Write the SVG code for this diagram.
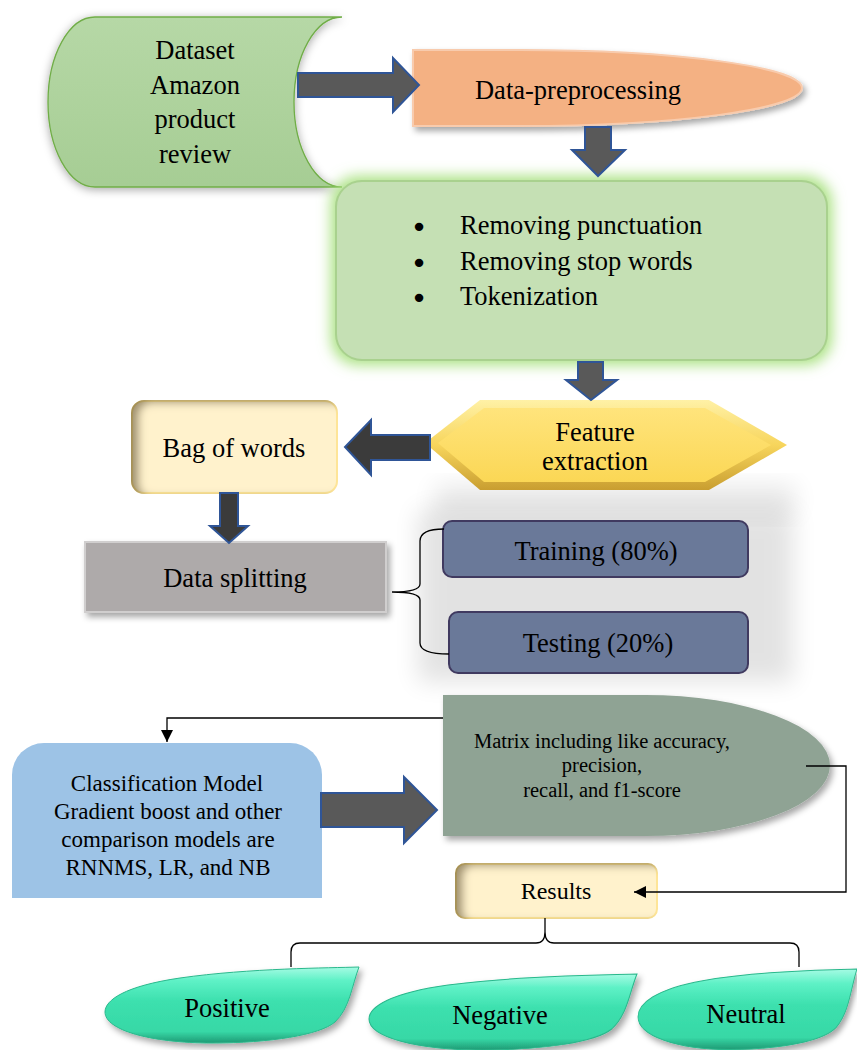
<svg xmlns="http://www.w3.org/2000/svg" width="857" height="1050" viewBox="0 0 857 1050">
<defs>
<style>
.t{font-family:"Liberation Serif","Times New Roman",serif;fill:#000;}
.c{text-anchor:middle;}
.f26{font-size:26.5px;}
.f23{font-size:23px;}
.f24{font-size:24px;}
.f21{font-size:20.5px;}
.bul{font-family:"DejaVu Sans",sans-serif;font-size:29px;text-anchor:middle;fill:#000;}
.blk{stroke:#2f5597;stroke-width:2;stroke-linejoin:miter;}
.line{fill:none;stroke:#000;stroke-width:1.3;}
.leaf{fill:url(#leafG);stroke:#2ab88c;stroke-width:1;}
</style>
<filter id="shadow" x="-20%" y="-20%" width="140%" height="150%">
<feDropShadow dx="3" dy="4" stdDeviation="3" flood-color="#000" flood-opacity="0.35"/>
</filter>
<filter id="soft" x="-20%" y="-20%" width="140%" height="140%">
<feDropShadow dx="0" dy="2" stdDeviation="5" flood-color="#000" flood-opacity="0.35"/>
</filter>
<filter id="glow" x="-15%" y="-25%" width="130%" height="150%">
<feMorphology in="SourceAlpha" operator="dilate" radius="4" result="d"/>
<feGaussianBlur in="d" stdDeviation="7" result="b"/>
<feFlood flood-color="#a6e07c" flood-opacity="0.95"/>
<feComposite in2="b" operator="in" result="g"/>
<feMerge><feMergeNode in="g"/><feMergeNode in="SourceGraphic"/></feMerge>
</filter>
<filter id="inset" x="-10%" y="-10%" width="120%" height="120%">
<feOffset in="SourceAlpha" dx="8" dy="3" result="off"/>
<feGaussianBlur in="off" stdDeviation="4" result="blur"/>
<feComposite in="SourceAlpha" in2="blur" operator="out" result="inv"/>
<feFlood flood-color="#6b5520" flood-opacity="0.75"/>
<feComposite in2="inv" operator="in" result="sh"/>
<feMerge><feMergeNode in="SourceGraphic"/><feMergeNode in="sh"/></feMerge>
</filter>
<filter id="blur12" x="-20%" y="-40%" width="140%" height="180%">
<feGaussianBlur stdDeviation="12"/>
</filter>
<linearGradient id="dsG" x1="0" y1="0" x2="0" y2="1">
<stop offset="0" stop-color="#b6d8a6"/>
<stop offset="1" stop-color="#a6cd94"/>
</linearGradient>
<linearGradient id="hexOut" x1="0" y1="0" x2="0" y2="1">
<stop offset="0" stop-color="#fff1a6"/>
<stop offset="0.5" stop-color="#f7d55c"/>
<stop offset="1" stop-color="#c99e30"/>
</linearGradient>
<linearGradient id="hexIn" x1="0" y1="0" x2="0" y2="1">
<stop offset="0" stop-color="#ffe47c"/>
<stop offset="1" stop-color="#fbd755"/>
</linearGradient>
<linearGradient id="leafG" x1="0" y1="0" x2="0" y2="1">
<stop offset="0" stop-color="#a6fbe4"/>
<stop offset="0.18" stop-color="#5ef1c6"/>
<stop offset="0.45" stop-color="#3ce0ae"/>
<stop offset="0.85" stop-color="#37d8a6"/>
<stop offset="1" stop-color="#1f9a74"/>
</linearGradient>
<marker id="ah" viewBox="0 0 10 10" refX="10" refY="5" markerWidth="12" markerHeight="12" markerUnits="userSpaceOnUse" orient="auto">
<path d="M0,0 L10,5 L0,10 Z" fill="#000"/>
</marker>
<path id="leafP" d="M254,0 C225,1 145,1 75,11 C20,19 0,33 0,45 C0,63 45,76 107,76 C165,76 215,68 230,55 C245,41 247,18 254,0 Z"/>
</defs>

<rect x="0" y="0" width="857" height="1050" fill="#fff"/>

<!-- background soft shadows -->
<rect x="435" y="485" width="360" height="30" fill="#000" opacity="0.09" filter="url(#blur12)"/>
<rect x="418" y="510" width="375" height="172" fill="#000" opacity="0.11" filter="url(#blur12)"/>

<g id="dataset">
<path d="M95,17 H342 A48,85 0 0 0 342,187 H95 A47,85 0 0 1 95,17 Z" fill="url(#dsG)" stroke="#70ad47" stroke-width="1.3" filter="url(#soft)"/>
<text class="t c f26" x="195" y="59">Dataset</text>
<text class="t c f26" x="195" y="94">Amazon</text>
<text class="t c f26" x="195" y="128">product</text>
<text class="t c f26" x="195" y="163">review</text>
</g>

<g id="preprocessing">
<path d="M413,50 H520 A282,38 0 0 1 520,126 H413 Z" fill="#f4b183" stroke="#f8cbad" stroke-width="2" filter="url(#shadow)"/>
<text class="t c f26" x="578" y="99">Data-preprocessing</text>
</g>

<g id="cleaning">
<rect x="336" y="181" width="491" height="179" rx="26" fill="#c5e0b4" stroke="#a9d18e" stroke-width="2" filter="url(#glow)"/>
<text class="bul" x="419" y="237">•</text>
<text class="bul" x="419" y="273">•</text>
<text class="bul" x="419" y="308">•</text>
<text class="t f26" x="460" y="234">Removing punctuation</text>
<text class="t f26" x="460" y="270">Removing stop words</text>
<text class="t f26" x="460" y="305">Tokenization</text>
</g>

<g id="feature">
<path d="M425,443 L480,400 L709,400 L787,445 L709,490 L480,490 Z" fill="url(#hexOut)"/>
<path d="M438,443 L484,408 L705,408 L771,445 L705,482 L484,482 Z" fill="url(#hexIn)"/>
<text class="t c f26" x="595" y="441">Feature</text>
<text class="t c f26" x="595" y="470">extraction</text>
</g>

<g id="bag">
<rect x="132" y="401" width="205" height="92" rx="12" fill="#fff2cc" stroke="#ffe699" stroke-width="2" filter="url(#inset)"/>
<text class="t c f26" x="234" y="457">Bag of words</text>
</g>

<g id="splitting">
<rect x="85" y="542" width="301" height="70" fill="#aeaaaa" stroke="#d0cece" stroke-width="2" filter="url(#shadow)"/>
<text class="t c f26" x="235" y="587">Data splitting</text>
</g>

<g id="training">
<rect x="443" y="521" width="305" height="56" rx="9" fill="#6a7999" stroke="#403a60" stroke-width="2"/>
<text class="t c f26" x="596" y="560">Training (80%)</text>
</g>

<g id="testing">
<rect x="449" y="612" width="299" height="61" rx="9" fill="#6a7999" stroke="#403a60" stroke-width="2"/>
<text class="t c f26" x="598" y="652">Testing (20%)</text>
</g>

<g id="metrics">
<path d="M443,695 H645 A185,70.5 0 0 1 645,836 H443 Z" fill="#8fa394" filter="url(#shadow)"/>
<text class="t c f21" x="602" y="748">Matrix including like accuracy,</text>
<text class="t c f21" x="602" y="772">precision,</text>
<text class="t c f21" x="602" y="797">recall, and f1-score</text>
</g>

<g id="classification">
<path d="M12,898 V775 A32,32 0 0 1 44,743 H290 A32,32 0 0 1 322,775 V898 Z" fill="#9dc3e6"/>
<text class="t c f23" x="167" y="791">Classification Model</text>
<text class="t c f23" x="168" y="819">Gradient boost and other</text>
<text class="t c f23" x="168" y="847">comparison models are</text>
<text class="t c f23" x="168" y="875">RNNMS, LR, and NB</text>
</g>

<g id="results">
<rect x="456" y="864" width="201" height="54" rx="9" fill="#fff2cc" stroke="#ffe699" stroke-width="2" filter="url(#inset)"/>
<text class="t c f24" x="556" y="899">Results</text>
</g>

<g id="positive">
<use href="#leafP" class="leaf" transform="translate(105,967)" filter="url(#shadow)"/>
<text class="t c f26" x="227" y="1017">Positive</text>
</g>

<g id="negative">
<use href="#leafP" class="leaf" transform="translate(369,974) scale(1.055,1)" filter="url(#shadow)"/>
<text class="t c f26" x="500" y="1024">Negative</text>
</g>

<g id="neutral">
<use href="#leafP" class="leaf" transform="translate(638,969) scale(0.862,1.06)" filter="url(#shadow)"/>
<text class="t c f26" x="746" y="1023">Neutral</text>
</g>

<g id="connectors">
<path class="blk" d="M298,73 H393 V58 L419,85 L393,112 V97 H298 Z" fill="#595959"/>
<path class="blk" d="M585,127 H611 V150 H625 L598,176 L572,150 H585 Z" fill="#595959"/>
<path class="blk" d="M578,362 H603 V380 H617 L591,400 L566,380 H578 Z" fill="#595959" stroke="#41719c"/>
<path class="blk" d="M430,435 H371 V420 L345,447 L371,475 V460 H430 Z" fill="#3b3b3b" stroke="#41719c"/>
<path class="blk" d="M220,493 H238 V526 H248 L229,543 L210,526 H220 Z" fill="#3b3b3b" stroke="#41719c"/>
<path class="blk" d="M321,793 H404 V777 L437,810 L404,843 V827 H321 Z" fill="#595959"/>
<path class="line" d="M444,529 Q420,529 420,541 V584 Q420,592 392,592 Q420,592 420,600 V643 Q420,654 449,654"/>
<path class="line" d="M443,718 H167 V742" marker-end="url(#ah)"/>
<path class="line" d="M806,766 H846 V892 H634" marker-end="url(#ah)"/>
<path class="line" d="M291,967 V952 Q291,943 300,943 H536 Q545,943 545,932 V918 M545,932 Q545,943 554,943 H790 Q799,943 799,952 V967"/>
</g>
</svg>
